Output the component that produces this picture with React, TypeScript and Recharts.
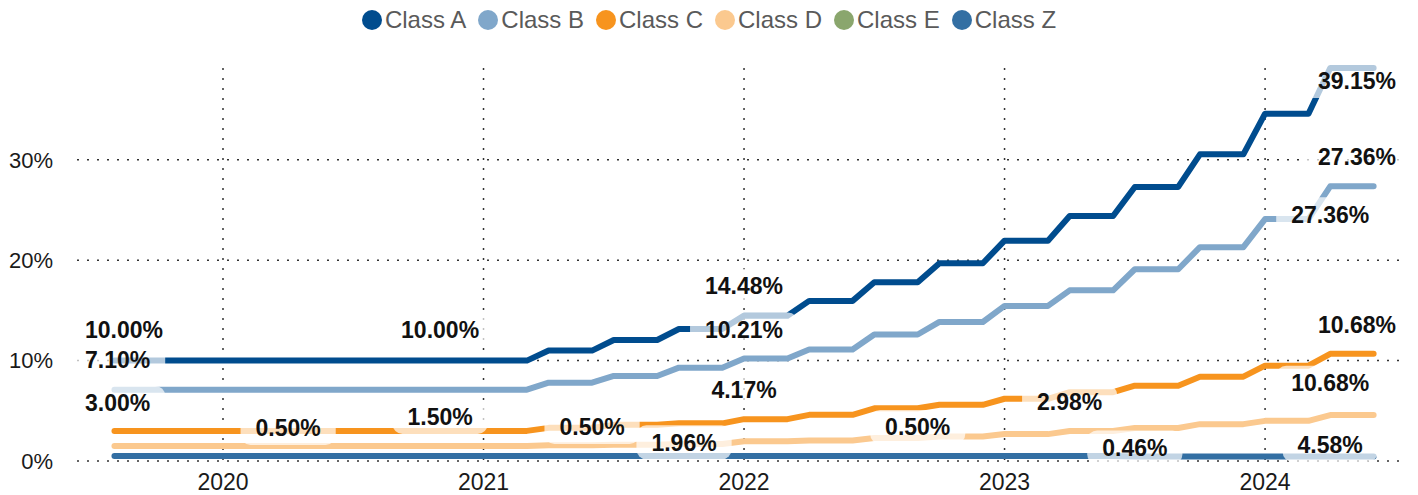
import { LineChart, Line, XAxis, YAxis, CartesianGrid, LabelList } from "recharts";

// month index, 0 = Jan 2020 ; Aug 2019 .. Jun 2024
const months = Array.from({ length: 59 }, (_, i) => i - 5);
const yearTicks = [0, 12, 24, 36, 48];
const yTicks = [0, 10, 20, 30];

const classA = [
  10, 10, 10, 10, 10, 10, 10, 10, 10, 10, 10, 10, 10, 10, 10, 10, 10, 10, 10, 10,
  11.0, 11.0, 11.0, 12.05, 12.05, 12.05, 13.15, 13.15, 13.15, 14.48, 14.48, 14.48,
  15.95, 15.95, 15.95, 17.8, 17.8, 17.8, 19.7, 19.7, 19.7, 21.95, 21.95, 21.95,
  24.4, 24.4, 24.4, 27.3, 27.3, 27.3, 30.55, 30.55, 30.55, 34.6, 34.6, 34.6, 39.15, 39.15, 39.15,
];
const classB = [
  7.1, 7.1, 7.1, 7.1, 7.1, 7.1, 7.1, 7.1, 7.1, 7.1, 7.1, 7.1, 7.1, 7.1, 7.1, 7.1, 7.1, 7.1, 7.1, 7.1,
  7.8, 7.8, 7.8, 8.47, 8.47, 8.47, 9.3, 9.3, 9.3, 10.21, 10.21, 10.21,
  11.1, 11.1, 11.1, 12.6, 12.6, 12.6, 13.85, 13.85, 13.85, 15.45, 15.45, 15.45,
  17.0, 17.0, 17.0, 19.1, 19.1, 19.1, 21.3, 21.3, 21.3, 24.1, 24.1, 24.1, 27.36, 27.36, 27.36,
];
const classC = [
  3, 3, 3, 3, 3, 3, 3, 3, 3, 3, 3, 3, 3, 3, 3, 3, 3, 3, 3, 3,
  3.3, 3.3, 3.3, 3.6, 3.6, 3.6, 3.75, 3.75, 3.75, 4.17, 4.17, 4.17,
  4.6, 4.6, 4.6, 5.25, 5.25, 5.25, 5.6, 5.6, 5.6, 6.2, 6.2, 6.2,
  6.85, 6.85, 6.85, 7.5, 7.5, 7.5, 8.4, 8.4, 8.4, 9.5, 9.5, 9.5, 10.68, 10.68, 10.68,
];
const classD = [
  1.5, 1.5, 1.5, 1.5, 1.5, 1.5, 1.5, 1.5, 1.5, 1.5, 1.5, 1.5, 1.5, 1.5, 1.5, 1.5, 1.5, 1.5, 1.5, 1.5,
  1.56, 1.56, 1.56, 1.62, 1.62, 1.62, 1.7, 1.7, 1.7, 1.96, 1.96, 1.96,
  2.05, 2.05, 2.05, 2.3, 2.3, 2.3, 2.45, 2.45, 2.45, 2.68, 2.68, 2.68,
  2.98, 2.98, 2.98, 3.28, 3.28, 3.28, 3.67, 3.67, 3.67, 4.0, 4.0, 4.0, 4.58, 4.58, 4.58,
];
const classZ = [
  0.5, 0.5, 0.5, 0.5, 0.5, 0.5, 0.5, 0.5, 0.5, 0.5, 0.5, 0.5, 0.5, 0.5, 0.5, 0.5, 0.5, 0.5, 0.5, 0.5,
  0.5, 0.5, 0.5, 0.5, 0.5, 0.5, 0.5, 0.5, 0.5, 0.5, 0.5, 0.5,
  0.5, 0.5, 0.5, 0.5, 0.5, 0.5, 0.5, 0.5, 0.5, 0.5, 0.5, 0.5,
  0.5, 0.5, 0.5, 0.46, 0.46, 0.46, 0.46, 0.46, 0.46, 0.46, 0.46, 0.46, 0.46, 0.46, 0.46,
];

const data = months.map((m, i) => ({
  x: m,
  a: classA[i],
  b: classB[i],
  c: classC[i],
  d: classD[i],
  z: classZ[i],
}));

const SERIES = [
  { key: "a", name: "Class A", color: "#004c8e" },
  { key: "b", name: "Class B", color: "#80a7ca" },
  { key: "c", name: "Class C", color: "#f7941e" },
  { key: "d", name: "Class D", color: "#fbc98f" },
  { key: "e", name: "Class E", color: "#8aa66d" },
  { key: "z", name: "Class Z", color: "#336fa3" },
];

// which month gets a value label, and where it sits relative to the point
const LABELS: Record<string, { m: number; dx?: number; dy: number }[]> = {
  a: [{ m: -5, dy: -31 }, { m: 10, dy: -31 }, { m: 24, dy: -30 }, { m: 53, dy: 13 }],
  b: [{ m: -5, dy: -30 }, { m: 24, dy: -29 }, { m: 51, dy: 28 }, { m: 53, dy: -30 }],
  c: [{ m: -5, dy: -28 }, { m: 24, dy: -29 }, { m: 51, dy: 29 }, { m: 53, dy: -29 }],
  d: [{ m: 10, dy: -29 }, { m: 24, dx: -60, dy: 1 }, { m: 39, dy: -29 }, { m: 51, dy: 30 }],
  z: [{ m: 3, dy: -28 }, { m: 17, dy: -29 }, { m: 32, dy: -29 }, { m: 42, dy: -9 }],
};

const textWidth = (s: string) =>
  s.split("").reduce((w, ch) => w + (ch === "." ? 6.4 : ch === "%" ? 20.4 : 12.8), 0);

const makeLabel = (key: string) => (props: any) => {
  const { index, value } = props;
  const px = props.x ?? props.viewBox?.x;
  const py = props.y ?? props.viewBox?.y;
  const def = LABELS[key].find(l => l.m === months[index]);
  if (!def || px == null || value == null) return null;
  const text = `${Number(value).toFixed(2)}%`;
  const w = textWidth(text) + 30;
  let cx = px + (def.dx ?? 0);
  cx = Math.max(70 + w / 2, Math.min(1411 - w / 2, cx));
  const cy = py + def.dy;
  return (
    <g key={`${key}-${index}`}>
      <rect x={cx - w / 2} y={cy - 17} width={w} height={34} rx={10} fill="rgba(255,255,255,0.7)" />
      <text x={cx} y={cy} dy="0.36em" textAnchor="middle" fontSize={23} fontWeight="bold" fill="#111">
        {text}
      </text>
    </g>
  );
};

function LegendRow() {
  return (
    <div style={{
      position: "absolute", top: 0, left: 0, width: 1418, height: 40,
      display: "flex", justifyContent: "center", alignItems: "center", gap: 12,
    }}>
      {SERIES.map(s => (
        <div key={s.key} style={{ display: "flex", alignItems: "center", gap: 3 }}>
          <span style={{ width: 20, height: 20, borderRadius: "50%", background: s.color, display: "inline-block" }} />
          <span style={{ fontSize: 24, color: "#5a5a5a", lineHeight: "24px" }}>{s.name}</span>
        </div>
      ))}
    </div>
  );
}

export default function App() {
  const drawn = SERIES.filter(s => s.key !== "e");
  return (
    <div style={{ position: "relative", width: 1418, height: 495, fontFamily: "'Liberation Sans', Arial, sans-serif", background: "#fff" }}>
      <style>{`body { margin: 0; }`}</style>
      <LegendRow />
      <LineChart width={1418} height={495} data={data} margin={{ top: 68, right: 18, bottom: 4, left: 0 }}>
        <CartesianGrid
          stroke="#333" strokeDasharray="2 8" strokeWidth={1.5}
          horizontalValues={yTicks} verticalValues={yearTicks} syncWithTicks
        />
        <XAxis
          dataKey="x" type="number" domain={[-6.725, 54.215]} ticks={yearTicks}
          tickFormatter={m => String(2020 + m / 12)}
          tickLine={false} axisLine={false} height={30} tickMargin={7}
          tick={{ fontSize: 23, fill: "#1a1a1a" }}
        />
        <YAxis
          type="number" domain={[0, 39.15]} ticks={yTicks}
          tickFormatter={v => `${v}%`}
          tickLine={false} axisLine={false} width={77} tickMargin={18}
          tick={{ fontSize: 22, fill: "#1a1a1a" }}
        />
        {drawn.map(s => (
          <Line
            key={s.key} type="linear" dataKey={s.key} stroke={s.color} strokeWidth={6}
            strokeLinecap="round" strokeLinejoin="round" dot={false} activeDot={false}
            isAnimationActive={false}
          />
        ))}
        {drawn.map(s => (
          <Line
            key={`lbl-${s.key}`} type="linear" dataKey={s.key} stroke="none" dot={false}
            activeDot={false} legendType="none" isAnimationActive={false}
          >
            <LabelList dataKey={s.key} content={makeLabel(s.key)} />
          </Line>
        ))}
      </LineChart>
    </div>
  );
}
